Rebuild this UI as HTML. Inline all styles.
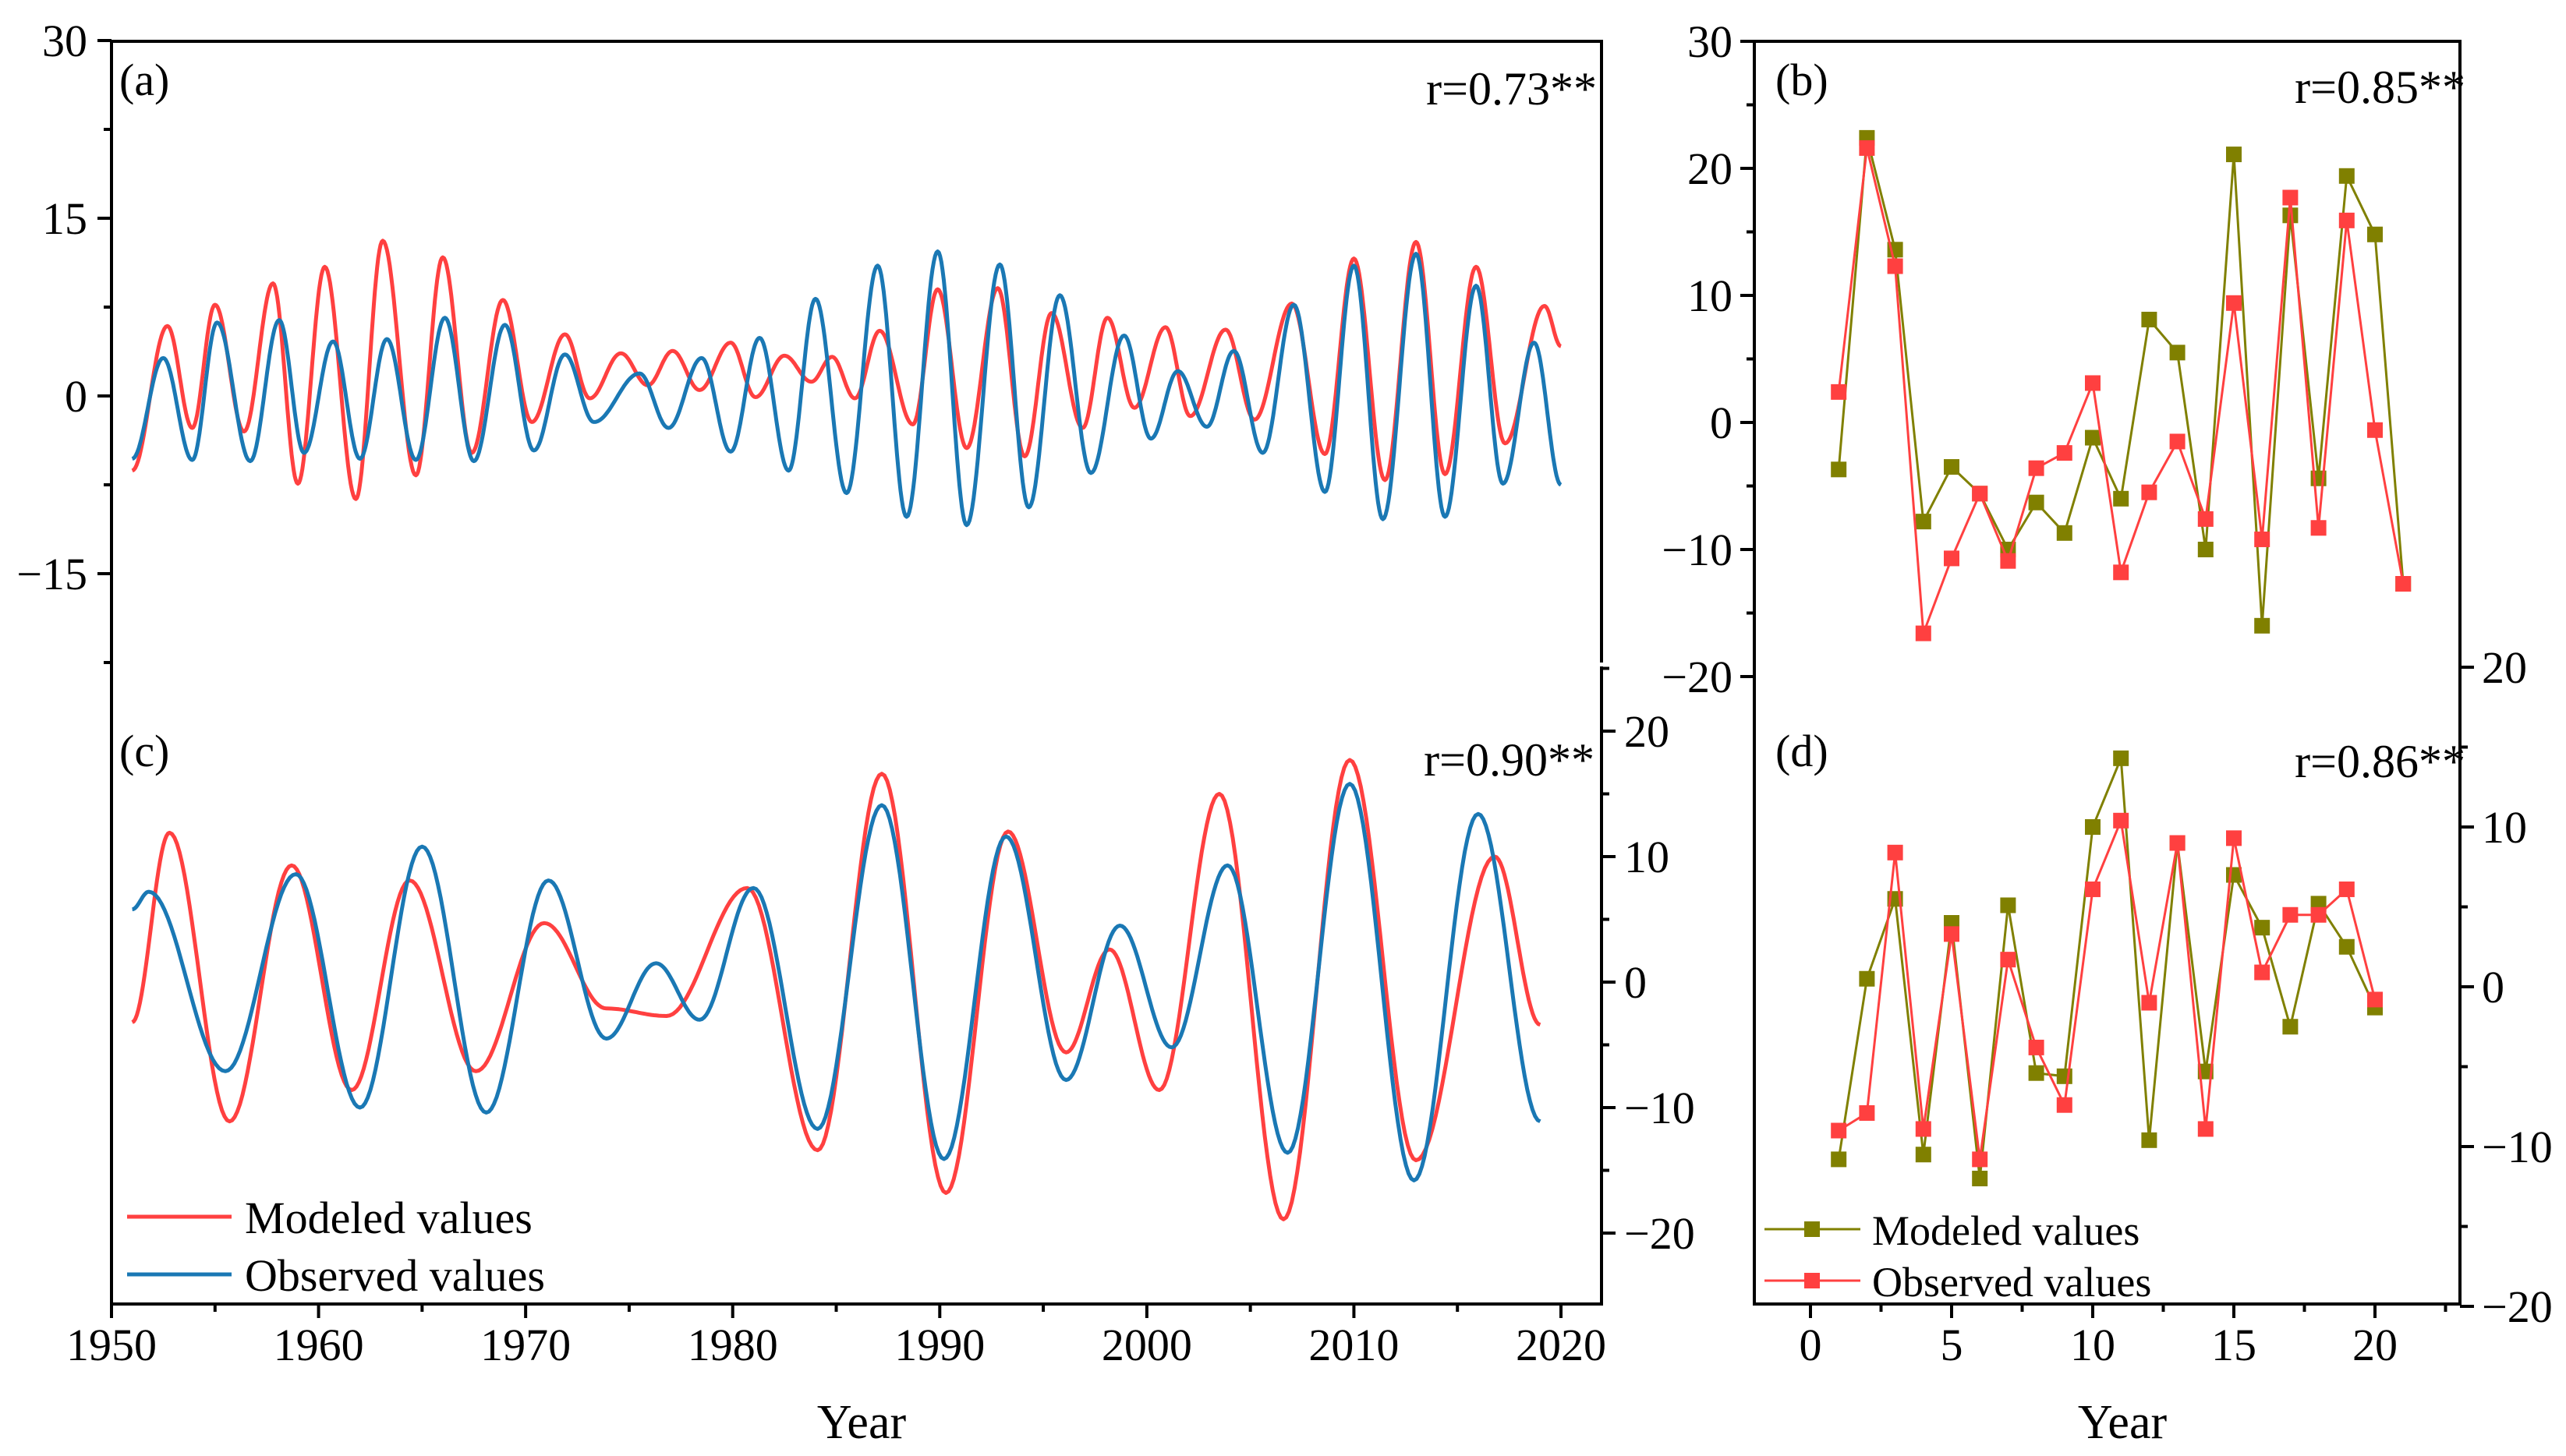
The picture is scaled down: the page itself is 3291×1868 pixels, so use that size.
<!DOCTYPE html>
<html><head><meta charset="utf-8"><title>Modeled vs observed values</title>
<style>
html,body{margin:0;padding:0;background:#fff;}
svg{display:block;}
text{font-family:"Liberation Serif","DejaVu Serif",serif;}
</style></head>
<body>
<svg id="fig" width="3291" height="1868" viewBox="0 0 3291 1868" xmlns="http://www.w3.org/2000/svg">
<rect x="0" y="0" width="3291" height="1868" fill="#fff"/>
<g id="layer"></g>
</svg>
<script>
// ---- Panel (a): extrema of smooth curves (year, value)
const aModYears = [1951,1952.7,1953.9,1955.0,1956.4,1957.8,1959.0,1960.3,1961.8,1963.1,1964.7,1966.0,1967.4,1968.9,1970.3,1971.9,1973.1,1974.6,1975.9,1977.1,1978.4,1979.9,1981.1,1982.5,1983.8,1984.8,1985.9,1987.1,1988.7,1989.9,1991.3,1992.8,1994.1,1995.4,1996.9,1998.1,1999.4,2000.9,2002.1,2003.8,2005.2,2007.0,2008.6,2010.0,2011.5,2013.0,2014.4,2015.9,2017.3,2019.2,2020.0];
const aModValues = [-6.3,5.9,-2.7,7.7,-3.0,9.5,-7.4,10.9,-8.7,13.1,-6.7,11.7,-4.8,8.1,-2.2,5.2,-0.2,3.6,0.9,3.8,0.5,4.5,-0.1,3.4,1.2,3.3,-0.2,5.5,-2.4,9.0,-4.4,9.1,-5.1,7.0,-2.7,6.6,-1.0,5.8,-1.7,5.6,-2.0,7.8,-4.9,11.6,-7.1,13.0,-6.6,10.9,-4.0,7.6,4.2];
const aObsYears = [1951,1952.5,1953.9,1955.1,1956.7,1958.1,1959.3,1960.7,1962.0,1963.3,1964.7,1966.1,1967.5,1969.0,1970.4,1971.9,1973.3,1975.5,1976.9,1978.5,1979.9,1981.3,1982.7,1984.0,1985.5,1987.0,1988.4,1989.9,1991.3,1992.9,1994.3,1995.8,1997.3,1998.9,2000.2,2001.5,2002.9,2004.2,2005.6,2007.1,2008.6,2010.0,2011.4,2013.0,2014.4,2015.9,2017.2,2018.7,2020.0];
const aObsValues = [-5.3,3.2,-5.4,6.2,-5.5,6.4,-4.8,4.6,-5.3,4.8,-5.4,6.6,-5.5,6.0,-4.6,3.5,-2.2,1.9,-2.7,3.2,-4.7,4.9,-6.3,8.2,-8.2,11.0,-10.2,12.2,-10.9,11.1,-9.4,8.5,-6.5,5.1,-3.6,2.1,-2.6,3.8,-4.8,7.7,-8.1,11.0,-10.4,12.0,-10.2,9.3,-7.4,4.5,-7.5];
// ---- Panel (c)
const cModYears = [1951,1952.8,1955.7,1958.7,1961.6,1964.4,1967.6,1970.9,1973.9,1976.8,1980.7,1984.1,1987.2,1990.3,1993.3,1996.1,1998.2,2000.6,2003.5,2006.6,2009.8,2013.0,2016.8,2019.0];
const cModValues = [-3.2,11.9,-11.1,9.3,-8.6,8.1,-7.1,4.7,-2.1,-2.7,7.5,-13.4,16.6,-16.8,12.0,-5.6,2.6,-8.6,15.0,-18.9,17.7,-14.2,10.0,-3.4];
const cObsYears = [1951,1951.8,1955.5,1958.9,1962.0,1965.0,1968.1,1971.1,1973.9,1976.3,1978.4,1981.0,1984.1,1987.2,1990.2,1993.2,1996.1,1998.7,2001.2,2003.9,2006.8,2009.8,2012.9,2016.0,2019.0];
const cObsValues = [5.8,7.2,-7.1,8.6,-10.0,10.8,-10.4,8.1,-4.5,1.5,-3.0,7.5,-11.7,14.1,-14.1,11.6,-7.8,4.5,-5.2,9.3,-13.6,15.8,-15.8,13.4,-11.1];
// ---- Panel (b)
const bX = [1,2,3,4,5,6,7,8,9,10,11,12,13,14,15,16,17,18,19,20,21];
const bModeled = [-3.7,22.4,13.6,-7.8,-3.5,-5.6,-10,-6.3,-8.7,-1.2,-6,8.1,5.5,-10,21.1,-16,16.3,-4.4,19.4,14.8,-12.7];
const bObserved = [2.4,21.6,12.3,-16.6,-10.7,-5.6,-10.9,-3.6,-2.4,3.1,-11.8,-5.5,-1.5,-7.6,9.4,-9.2,17.7,-8.3,15.9,-0.6,-12.7];
// ---- Panel (d)
const dX = [1,2,3,4,5,6,7,8,9,10,11,12,13,14,15,16,17,18,19,20];
const dModeled = [-10.8,0.5,5.5,-10.5,4,-12,5.1,-5.4,-5.6,10,14.3,-9.6,9,-5.3,7,3.7,-2.5,5.2,2.5,-1.3];
const dObserved = [-9,-7.9,8.4,-8.9,3.3,-10.8,1.7,-3.8,-7.4,6.1,10.4,-1,9,-8.9,9.3,0.9,4.5,4.5,6.1,-0.8];
// ---- Tick labels
const leftXTicks = [1950,1960,1970,1980,1990,2000,2010,2020];
const aYTicks = [30,15,0,-15];
const cYTicks = [20,10,0,-10,-20];
const bYTicks = [30,20,10,0,-10,-20];
const dYTicks = [20,10,0,-10,-20];
const rightXTicks = [0,5,10,15,20];

const NS = "http://www.w3.org/2000/svg";
const layer = document.getElementById('layer');
function mk(tag, attrs, parent){
  const e = document.createElementNS(NS, tag);
  for (const k in attrs) e.setAttribute(k, attrs[k]);
  (parent||layer).appendChild(e);
  return e;
}
function lin(d0,d1,r0,r1){return v => r0 + (v-d0)*(r1-r0)/(d1-d0);}
const fmt = v => (v<0 ? "\u2212"+Math.abs(v) : String(v));

const xL = lin(1950,2020,143,2002);
const yA = lin(0,15,508,280);
const yC = lin(0,20,1260,938);
const xR = lin(0,20,2322,3046);
const yB = lin(30,-20,53,868);
const yD = lin(0,20,1266,856);

const RED="#ff4040", BLUE="#1a78b4", OLIVE="#808000";
const FS = 58;

function smoothPath(xs, vs, xf, yf){
  let d = "M"+xf(xs[0]).toFixed(1)+","+yf(vs[0]).toFixed(1);
  for (let i=0;i<xs.length-1;i++){
    const n=24;
    for (let k=1;k<=n;k++){
      const t=k/n, e=(1-Math.cos(Math.PI*t))/2;
      const x=xs[i]+(xs[i+1]-xs[i])*t, v=vs[i]+(vs[i+1]-vs[i])*e;
      d+="L"+xf(x).toFixed(1)+","+yf(v).toFixed(1);
    }
  }
  return d;
}
function txt(s,x,y,size,anchor,name){
  const t = mk('text',{x:x,y:y,'font-size':size,'text-anchor':anchor||'start',fill:'#000','font-family':'Liberation Serif, serif'});
  
  
  t.textContent = s;
  return t;
}
function line(x1,y1,x2,y2,w,name){
  const l = mk('line',{x1:x1,y1:y1,x2:x2,y2:y2,stroke:'#000','stroke-width':w||4});
  
  
  return l;
}

// ---------- LEFT PANEL ----------
const fr1 = mk('rect',{x:143,y:53,width:1911,height:1620,fill:'none',stroke:'#000','stroke-width':4});


aYTicks.forEach(v=>{ line(125,yA(v),143,yA(v),4,'a-y-tick'); txt(fmt(v),112,yA(v)+20,FS,'end','a-y-tick-label'); });
[22.5,7.5,-7.5,-22.5].forEach(v=> line(133,yA(v),143,yA(v),4,'a-y-minor-tick'));
cYTicks.forEach(v=>{ line(2054,yC(v),2072,yC(v),4,'c-y-tick'); txt(fmt(v),2083,yC(v)+20,FS,'start','c-y-tick-label'); });
[25,15,5,-5,-15].forEach(v=> line(2054,yC(v),2064,yC(v),4,'c-y-minor-tick'));
mk('rect',{x:2050,y:850,width:8,height:5,fill:'#fff'});
leftXTicks.forEach(v=>{ line(xL(v),1673,xL(v),1691,4,'x-tick'); txt(String(v),xL(v),1745,FS,'middle','x-tick-label'); });
for(let v=1955; v<=2015; v+=10) line(xL(v),1673,xL(v),1683,4,'x-minor-tick');
txt("Year",1105,1845,62,'middle','left-x-axis-title');

[[aModYears,aModValues,RED,'a-modeled-line'],[aObsYears,aObsValues,BLUE,'a-observed-line']].forEach(s=>{
  const p = mk('path',{d:smoothPath(s[0],s[1],xL,yA),fill:'none',stroke:s[2],'stroke-width':5,'stroke-linejoin':'round'});
  
  
});
[[cModYears,cModValues,RED,'c-modeled-line'],[cObsYears,cObsValues,BLUE,'c-observed-line']].forEach(s=>{
  const p = mk('path',{d:smoothPath(s[0],s[1],xL,yC),fill:'none',stroke:s[2],'stroke-width':5,'stroke-linejoin':'round'});
  
  
});
txt("(a)",153,122,FS,'start','panel-a-label');
txt("r=0.73**",2048,134,60,'end','panel-a-r-value');
txt("(c)",153,983,FS,'start','panel-c-label');
txt("r=0.90**",2045,995,60,'end','panel-c-r-value');
line(163,1561,297,1561,5,'legend-modeled-line').setAttribute('stroke',RED);
line(163,1635,297,1635,5,'legend-observed-line').setAttribute('stroke',BLUE);
txt("Modeled values",314,1582,FS,'start','legend-modeled-label');
txt("Observed values",314,1656,FS,'start','legend-observed-label');

// ---------- RIGHT PANEL ----------
const fr2 = mk('rect',{x:2250,y:53,width:905,height:1620,fill:'none',stroke:'#000','stroke-width':4});


bYTicks.forEach(v=>{ line(2232,yB(v),2250,yB(v),4,'b-y-tick'); txt(fmt(v),2222,yB(v)+20,FS,'end','b-y-tick-label'); });
[25,15,5,-5,-15].forEach(v=> line(2240,yB(v),2250,yB(v),4,'b-y-minor-tick'));
dYTicks.forEach(v=>{ line(3155,yD(v),3173,yD(v),4,'d-y-tick'); txt(fmt(v),3183,yD(v)+20,FS,'start','d-y-tick-label'); });
[15,5,-5,-15].forEach(v=> line(3155,yD(v),3165,yD(v),4,'d-y-minor-tick'));
rightXTicks.forEach(v=>{ line(xR(v),1673,xR(v),1691,4,'rx-tick'); txt(String(v),xR(v),1745,FS,'middle','rx-tick-label'); });
[2.5,7.5,12.5,17.5,22.5].forEach(v=> line(xR(v),1673,xR(v),1683,4,'rx-minor-tick'));
txt("Year",2722,1845,62,'middle','right-x-axis-title');

function series(xs,vs,yf,color,name){
  const pts = xs.map((x,i)=>xR(x).toFixed(1)+","+yf(vs[i]).toFixed(1)).join(" ");
  const pl = mk('polyline',{points:pts,fill:'none',stroke:color,'stroke-width':3});
  
  
  xs.forEach((x,i)=>{
    const r = mk('rect',{x:xR(x)-10,y:yf(vs[i])-10,width:20,height:20,fill:color});
    
    
  });
}
series(bX,bModeled,yB,OLIVE,'b-modeled');
series(bX,bObserved,yB,RED,'b-observed');
series(dX,dModeled,yD,OLIVE,'d-modeled');
series(dX,dObserved,yD,RED,'d-observed');

txt("(b)",2277,122,FS,'start','panel-b-label');
txt("r=0.85**",3162,132,60,'end','panel-b-r-value');
txt("(d)",2277,983,FS,'start','panel-d-label');
txt("r=0.86**",3162,997,60,'end','panel-d-r-value');
line(2263,1577,2386,1577,3,'legend-b-modeled-line').setAttribute('stroke',OLIVE);
const lm1 = mk('rect',{x:2314,y:1567,width:20,height:20,fill:OLIVE});


line(2263,1643,2386,1643,3,'legend-b-observed-line').setAttribute('stroke',RED);
const lm2 = mk('rect',{x:2314,y:1633,width:20,height:20,fill:RED});


txt("Modeled values",2401,1597,54,'start','legend-b-modeled-label');
txt("Observed values",2401,1663,54,'start','legend-b-observed-label');
</script>
</body></html>
